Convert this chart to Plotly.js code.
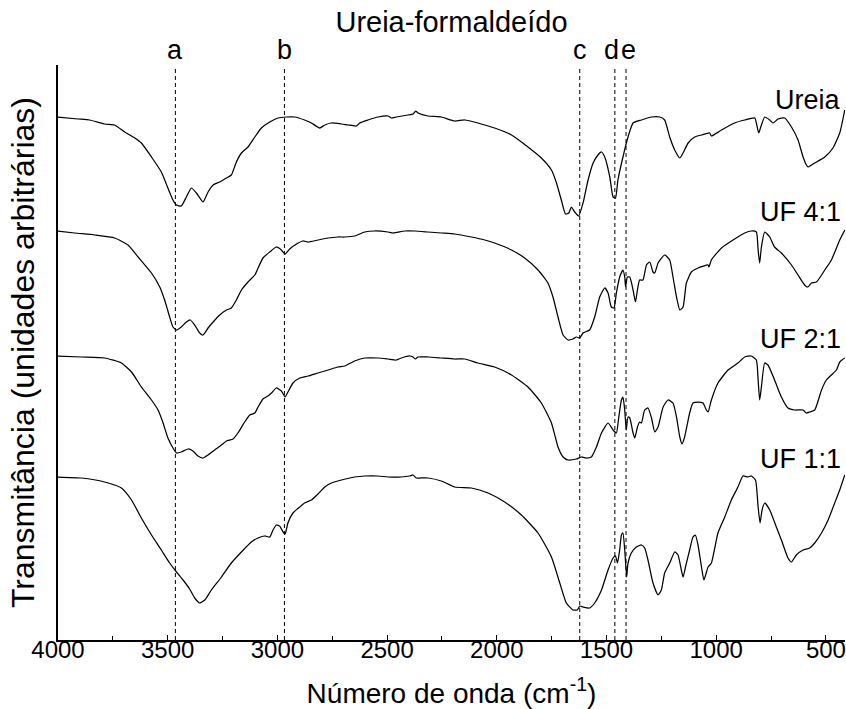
<!DOCTYPE html>
<html>
<head>
<meta charset="utf-8">
<script src="https://cdn.plot.ly/plotly-3.0.1.min.js"></script>
<style>html,body{margin:0;padding:0;background:#fff;}#chart{width:846px;height:709px;}</style>
</head>
<body>
<div id="chart"></div>
<script>
// Wavenumbers (cm-1) and offset transmittance (arbitrary units)
const ureiaWn = [4000,3909,3856,3787,3742,3696,3650,3620,3574,3529,3499,3476,3460,3438,3415,3392,3369,3339,3316,3293,3263,3232,3210,3187,3164,3134,3103,3073,3035,2997,2959,2921,2876,2845,2807,2784,2754,2708,2678,2640,2625,2587,2541,2496,2480,2458,2405,2382,2370,2359,2314,2253,2192,2146,2086,2025,2010,1933,1858,1797,1751,1728,1706,1687,1672,1660,1645,1627,1607,1584,1561,1539,1523,1508,1485,1470,1459,1448,1425,1402,1379,1341,1295,1257,1235,1212,1189,1166,1151,1128,1098,1067,1030,1022,976,916,870,824,817,806,797,779,756,741,718,688,657,627,604,589,581,566,551,505,468,437,414];
const ureiaT = [523,521,520,516,515,508,502,497,483,468,452,440,435,434,443,452,447,438,448,455,458,462,465,478,487,493,503,512,518,522,523,523,520,517,512,515,517,516,515,514,517,520,523,524,522,523,525,526,529,527,524,523,519,520,517,513,512,505,493,482,470,457,440,426,427,433,428,424,437,460,477,485,488,483,463,443,442,460,483,503,517,520,523,523,520,503,490,482,487,497,503,505,507,504,510,517,520,522,517,507,513,523,520,517,521,522,513,500,483,475,473,475,477,483,492,507,530];

const uf41Wn = [4000,3924,3833,3742,3681,3635,3574,3536,3514,3491,3476,3460,3438,3415,3397,3377,3354,3339,3316,3293,3263,3232,3210,3187,3164,3134,3103,3088,3066,3035,3005,2982,2965,2944,2913,2883,2860,2815,2769,2724,2693,2648,2602,2557,2496,2473,2420,2374,2314,2253,2192,2116,2055,2010,1933,1873,1812,1767,1744,1721,1698,1675,1653,1637,1622,1607,1577,1554,1531,1508,1493,1478,1466,1455,1440,1425,1417,1413,1405,1394,1379,1368,1359,1349,1334,1318,1303,1288,1280,1265,1235,1212,1197,1181,1166,1151,1136,1113,1083,1037,1033,1022,976,916,870,840,817,809,802,794,779,756,734,703,657,627,597,582,566,543,505,475,437,414];
const uf41T = [409,407,405,402,395,383,367,353,340,323,313,310,313,318,320,315,307,305,312,318,325,330,332,340,350,358,365,372,382,388,393,390,386,391,396,399,398,400,402,403,403,404,408,409,408,407,409,409,408,407,406,403,400,397,390,382,370,357,343,323,305,300,301,303,302,307,310,323,343,352,347,333,332,347,363,370,363,353,363,363,350,338,350,360,360,375,378,368,367,377,385,380,363,343,330,333,357,368,372,375,373,380,392,401,407,409,408,390,377,393,408,403,393,387,375,365,355,353,357,358,370,380,400,410];

const uf21Wn = [4000,3893,3787,3711,3665,3620,3574,3544,3521,3499,3476,3460,3438,3407,3385,3362,3339,3316,3286,3255,3232,3202,3180,3149,3126,3103,3088,3066,3043,3027,3005,2982,2965,2952,2929,2898,2860,2815,2769,2724,2693,2648,2602,2541,2496,2458,2435,2397,2382,2371,2359,2314,2253,2192,2146,2086,2010,1933,1858,1797,1751,1721,1698,1675,1637,1614,1591,1569,1546,1523,1493,1470,1455,1444,1432,1425,1417,1410,1402,1394,1379,1371,1359,1349,1341,1326,1311,1295,1280,1265,1242,1220,1197,1181,1166,1156,1144,1121,1106,1083,1060,1045,1037,1022,992,946,901,870,840,817,809,802,794,779,764,734,703,673,642,604,589,574,551,520,498,475,452,437,414];
const uf21T = [284,283,282,277,268,253,240,230,217,202,192,187,188,191,189,184,182,185,190,195,199,201,207,218,225,227,233,241,244,247,252,249,243,248,257,262,264,267,270,273,274,279,282,282,281,280,282,284,283,281,283,283,282,281,281,277,273,265,253,237,217,193,183,180,181,183,182,183,193,207,217,210,207,223,240,243,230,210,223,222,207,202,213,218,217,230,232,222,208,213,233,240,237,223,203,196,203,227,237,238,237,230,228,240,257,270,277,283,284,280,260,240,253,277,275,260,243,232,230,230,227,228,230,250,260,265,270,278,282];

const uf11Wn = [4000,3893,3787,3711,3665,3620,3574,3529,3491,3460,3430,3400,3377,3354,3331,3301,3255,3210,3164,3119,3088,3058,3035,3020,3005,2990,2974,2965,2952,2929,2898,2876,2845,2815,2784,2754,2708,2648,2602,2541,2496,2435,2397,2382,2367,2351,2314,2253,2192,2116,2040,1964,1888,1812,1751,1713,1683,1653,1633,1622,1607,1577,1554,1523,1493,1470,1459,1450,1440,1432,1425,1417,1408,1402,1387,1364,1341,1326,1311,1288,1265,1250,1235,1212,1189,1174,1159,1151,1140,1121,1106,1095,1083,1067,1056,1037,1022,992,961,931,901,878,855,840,821,809,800,791,779,756,726,703,673,657,635,604,574,551,520,490,460,437,414];
const uf11T = [163,162,158,152,140,122,105,90,77,68,60,51,42,37,40,50,63,77,88,98,102,104,103,110,115,114,108,106,117,127,133,137,140,146,153,157,160,163,164,164,163,163,164,165,162,162,162,159,153,152,147,138,125,107,83,57,37,30,30,34,33,32,37,50,70,82,84,77,90,105,107,90,63,77,87,93,95,92,80,57,45,50,67,77,88,85,70,63,73,90,103,105,95,73,60,73,77,107,123,140,153,164,163,164,160,133,117,130,137,130,113,100,82,78,85,90,92,97,107,120,137,150,165];

const seriesNames = ['Ureia','UF 4:1','UF 2:1','UF 1:1'];
const seriesWn = [ureiaWn, uf41Wn, uf21Wn, uf11Wn];
const seriesT = [ureiaT, uf41T, uf21T, uf11T];
const labelT = [540, 428, 301, 181];   // vertical position of the right-hand series labels

const bandNames = ['a','b','c','d','e'];
const bandWn = [3465, 2968, 1622, 1462, 1411];
const bandLabelShift = [0, 0, 0, -3, 2];

const xTickVals = [4000,3500,3000,2500,2000,1500,1000,500];
const xTickText = ['4000','3500','3000','2500','2000','1500','1000','500'];

const FONT = 'Liberation Sans, Arial, sans-serif';

const traces = seriesNames.map((n, i) => ({
  type: 'scatter', mode: 'lines', name: n,
  x: seriesWn[i], y: seriesT[i],
  line: {color: '#000', width: 1.25, shape: 'spline', smoothing: 0.5},
  hoverinfo: 'x+y+name'
}));

const shapes = bandWn.map(w => ({
  type: 'line', xref: 'x', yref: 'paper', x0: w, x1: w, y0: 0, y1: 0.995,
  line: {color: '#000', width: 1, dash: '4px,3px'}
}));

const annotations = [];
bandNames.forEach((b, i) => annotations.push({
  text: b, x: bandWn[i], xref: 'x', y: 1, yref: 'paper', yanchor: 'middle', yshift: 15,
  xshift: bandLabelShift[i], showarrow: false, font: {family: FONT, size: 27, color: '#000'}
}));
seriesNames.forEach((n, i) => annotations.push({
  text: n, x: 1, xref: 'paper', xanchor: 'right', xshift: -2, y: labelT[i], yref: 'y', yanchor: 'middle',
  showarrow: false, font: {family: FONT, size: 27, color: '#000'}
}));

const layout = {
  width: 846, height: 709,
  margin: {l: 58, r: 1, t: 65, b: 69, pad: 0},
  paper_bgcolor: '#fff', plot_bgcolor: '#fff',
  showlegend: false,
  title: {text: 'Ureia-formaldeído', x: 0.5, xref: 'paper', xanchor: 'center', y: 0.969, yref: 'container', yanchor: 'middle',
          font: {family: FONT, size: 29, color: '#000'}},
  xaxis: {
    range: [4000, 413], autorange: false,
    tickvals: xTickVals, ticktext: xTickText,
    ticks: 'inside', ticklen: 5, tickcolor: '#000', tickwidth: 1,
    minor: {dtick: 250, tick0: 0, ticks: 'inside', ticklen: 4, tickcolor: '#000'},
    ticklabelstandoff: -13,
    showline: true, linecolor: '#000', linewidth: 2, mirror: false,
    showgrid: false, zeroline: false,
    tickfont: {family: FONT, size: 24, color: '#000'},
    title: {text: 'Número de onda (cm<sup>-1</sup>)', font: {family: FONT, size: 28, color: '#000'}, standoff: 24}
  },
  yaxis: {
    range: [0, 575], autorange: false,
    showticklabels: false, ticks: '',
    showline: true, linecolor: '#000', linewidth: 2.5,
    showgrid: false, zeroline: false,
    title: {text: 'Transmitância (unidades arbitrárias)', font: {family: FONT, size: 32, color: '#000'}, standoff: 12}
  },
  shapes: shapes,
  annotations: annotations
};

Plotly.newPlot('chart', traces, layout, {displayModeBar: false, staticPlot: true});
</script>
</body>
</html>
